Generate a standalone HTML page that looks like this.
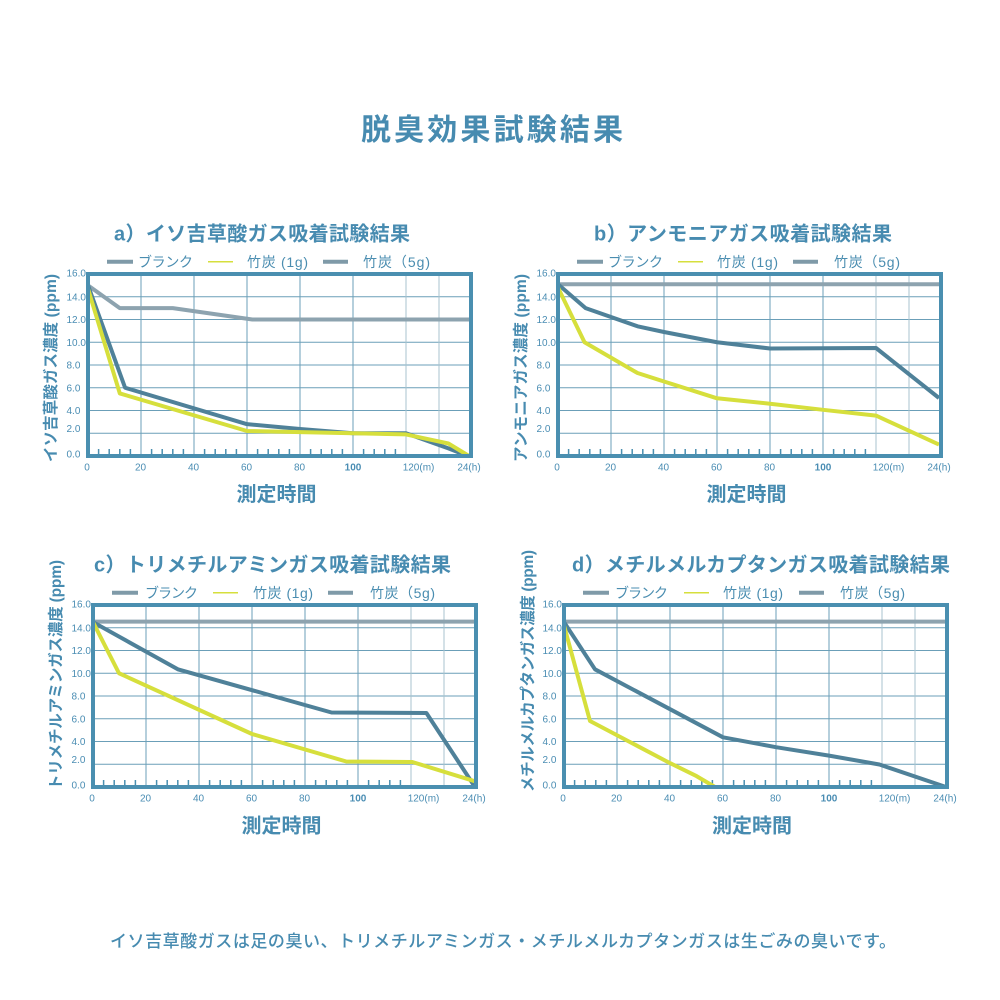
<!DOCTYPE html>
<html><head><meta charset="utf-8"><style>
html,body{margin:0;padding:0;background:#fff;width:1000px;height:1000px;overflow:hidden}
svg{display:block}
.t{font-family:"Liberation Sans","Noto Sans CJK JP",sans-serif;fill:#478bb0}
.n{font-family:"Liberation Sans",sans-serif;font-size:10px;fill:#4a8db3}
.lg{font-family:"Liberation Sans","Noto Sans CJK JP",sans-serif;font-size:14px;fill:#4a8db0}
</style></head><body>
<svg width="1000" height="1000" viewBox="0 0 1000 1000" xmlns="http://www.w3.org/2000/svg">
<defs>
<g id="frame">
<path d="M0 22.75H383M0 45.5H383M0 68.25H383M0 91H383M0 113.75H383M0 136.5H383M0 159.25H383M53 0V182M106 0V182M159 0V182M212 0V182M265 0V182" stroke="#6b9fb8" stroke-width="1" fill="none"/>
<path d="M318 0V182M351 0V182" stroke="#a9c3cf" stroke-width="1" fill="none"/>
<path d="M10.6 175V182M21.2 175V182M31.8 175V182M42.4 175V182M63.6 175V182M74.2 175V182M84.8 175V182M95.4 175V182M116.6 175V182M127.2 175V182M137.8 175V182M148.4 175V182M169.6 175V182M180.2 175V182M190.8 175V182M201.4 175V182M222.6 175V182M233.2 175V182M243.8 175V182M254.4 175V182M275.6 175V182M286.2 175V182M296.8 175V182M307.4 175V182" stroke="#4a8fb0" stroke-width="1.5" fill="none"/>
</g>
<g id="legendlines">
<line x1="19" y1="-12.3" x2="45" y2="-12.3" stroke="#7f9aa8" stroke-width="4"/>
<line x1="120" y1="-12.3" x2="145" y2="-12.3" stroke="#d6df3c" stroke-width="1.5"/>
<line x1="235" y1="-12.3" x2="260" y2="-12.3" stroke="#7f9aa8" stroke-width="4"/>
</g>
</defs>

<text class="t" x="361" y="140" font-size="30" font-weight="bold" textLength="262" lengthAdjust="spacing">脱臭効果試験結果</text>

<!-- Chart a -->
<g transform="translate(88,274)">
<use href="#frame"/>
<polyline points="0,11.4 31.8,34.1 84.8,34.1 164.3,45.5 381,45.5" fill="none" stroke="#8da3af" stroke-width="4" stroke-linejoin="round"/>
<polyline points="0,11.4 37.1,113.75 159,150.15 212,155 265,159.25 318,159.25 360.4,174.4 380,182" fill="none" stroke="#4f8199" stroke-width="4" stroke-linejoin="round"/>
<polyline points="0,14.8 31.8,119.4 159,157 265,159.25 318,160.4 360.4,169.5 381,182" fill="none" stroke="#d6df3c" stroke-width="4" stroke-linejoin="round"/>
<rect x="0" y="0" width="383" height="182" fill="none" stroke="#4a8fb0" stroke-width="4"/>
<use href="#legendlines"/>
<text class="lg" x="50" y="-7" textLength="55" lengthAdjust="spacing">ブランク</text>
<text class="lg" x="159" y="-7" textLength="61" lengthAdjust="spacing">竹炭 (1g)</text>
<text class="lg" x="275" y="-7" textLength="67" lengthAdjust="spacing">竹炭（5g)</text>
<text class="t" x="26" y="-33.7" font-size="20" font-weight="bold" textLength="296" lengthAdjust="spacing">a）イソ吉草酸ガス吸着試験結果</text>
<text class="t" x="188.5" y="227" font-size="20" font-weight="bold" text-anchor="middle">測定時間</text>
<text class="t" transform="translate(-32,188) rotate(-90)" font-size="15.5" font-weight="bold" textLength="188" lengthAdjust="spacing">イソ吉草酸ガス濃度 (ppm)</text>
<g class="n">
<text x="-21.5" y="2.6">16.0</text><text x="-21.5" y="26.3">14.0</text><text x="-21.5" y="49">12.0</text><text x="-21.5" y="71.8">10.0</text><text x="-21.5" y="94.6">8.0</text><text x="-21.5" y="117.3">6.0</text><text x="-21.5" y="140.1">4.0</text><text x="-21.5" y="158">2.0</text><text x="-21.5" y="183.6">0.0</text>
<text x="-1" y="196.3" text-anchor="middle">0</text><text x="52.5" y="196.3" text-anchor="middle">20</text><text x="105.5" y="196.3" text-anchor="middle">40</text><text x="158.5" y="196.3" text-anchor="middle">60</text><text x="211.5" y="196.3" text-anchor="middle">80</text><text x="265" y="196.3" text-anchor="middle" font-weight="bold">100</text><text x="314.7" y="196.3">120(m)</text><text x="381" y="196.3" text-anchor="middle">24(h)</text>
</g>
</g>

<!-- Chart b -->
<g transform="translate(558,274)">
<use href="#frame"/>
<polyline points="0,10.2 381,10.2" fill="none" stroke="#8da3af" stroke-width="4"/>
<polyline points="0,10.2 27.6,34.1 79.5,52.3 106,58 159,68.25 212,74.5 318,74 381,124" fill="none" stroke="#4f8199" stroke-width="4" stroke-linejoin="round"/>
<polyline points="0,13.65 26.5,68.25 79.5,99 106,107.5 159,124.3 212,129.7 265,135.8 318,141.6 381,170.6" fill="none" stroke="#d6df3c" stroke-width="4" stroke-linejoin="round"/>
<rect x="0" y="0" width="383" height="182" fill="none" stroke="#4a8fb0" stroke-width="4"/>
<use href="#legendlines"/>
<text class="lg" x="50" y="-7" textLength="55" lengthAdjust="spacing">ブランク</text>
<text class="lg" x="159" y="-7" textLength="61" lengthAdjust="spacing">竹炭 (1g)</text>
<text class="lg" x="276" y="-7" textLength="66" lengthAdjust="spacing">竹炭（5g)</text>
<text class="t" x="36" y="-33.7" font-size="20" font-weight="bold" textLength="298" lengthAdjust="spacing">b）アンモニアガス吸着試験結果</text>
<text class="t" x="188.5" y="227" font-size="20" font-weight="bold" text-anchor="middle">測定時間</text>
<text class="t" transform="translate(-32,188) rotate(-90)" font-size="15.5" font-weight="bold" textLength="188" lengthAdjust="spacing">アンモニアガス濃度 (ppm)</text>
<g class="n">
<text x="-21.5" y="2.6">16.0</text><text x="-21.5" y="26.3">14.0</text><text x="-21.5" y="49">12.0</text><text x="-21.5" y="71.8">10.0</text><text x="-21.5" y="94.6">8.0</text><text x="-21.5" y="117.3">6.0</text><text x="-21.5" y="140.1">4.0</text><text x="-21.5" y="158">2.0</text><text x="-21.5" y="183.6">0.0</text>
<text x="-1" y="196.3" text-anchor="middle">0</text><text x="52.5" y="196.3" text-anchor="middle">20</text><text x="105.5" y="196.3" text-anchor="middle">40</text><text x="158.5" y="196.3" text-anchor="middle">60</text><text x="211.5" y="196.3" text-anchor="middle">80</text><text x="265" y="196.3" text-anchor="middle" font-weight="bold">100</text><text x="314.7" y="196.3">120(m)</text><text x="381" y="196.3" text-anchor="middle">24(h)</text>
</g>
</g>

<!-- Chart c -->
<g transform="translate(93,605)">
<use href="#frame"/>
<polyline points="0,16.6 382,16.6" fill="none" stroke="#8da3af" stroke-width="4"/>
<polyline points="0,17.1 84.8,64.3 238.5,107.5 333.4,108 382,182" fill="none" stroke="#4f8199" stroke-width="4" stroke-linejoin="round"/>
<polyline points="0,17.1 26,68.25 159,129 253.3,156.5 319.3,157 382,176.3" fill="none" stroke="#d6df3c" stroke-width="4" stroke-linejoin="round"/>
<rect x="0" y="0" width="383" height="182" fill="none" stroke="#4a8fb0" stroke-width="4"/>
<use href="#legendlines"/>
<text class="lg" x="52" y="-7" textLength="53" lengthAdjust="spacing">ブランク</text>
<text class="lg" x="160" y="-7" textLength="60" lengthAdjust="spacing">竹炭 (1g)</text>
<text class="lg" x="277" y="-7" textLength="65" lengthAdjust="spacing">竹炭（5g)</text>
<text class="t" x="1" y="-33.4" font-size="20" font-weight="bold" textLength="357" lengthAdjust="spacing">c）トリメチルアミンガス吸着試験結果</text>
<text class="t" x="188.5" y="227.6" font-size="20" font-weight="bold" text-anchor="middle">測定時間</text>
<text class="t" transform="translate(-32,185) rotate(-90)" font-size="15.5" font-weight="bold" textLength="230" lengthAdjust="spacing">トリメチルアミンガス濃度 (ppm)</text>
<g class="n">
<text x="-21.5" y="2.6">16.0</text><text x="-21.5" y="26.3">14.0</text><text x="-21.5" y="49">12.0</text><text x="-21.5" y="71.8">10.0</text><text x="-21.5" y="94.6">8.0</text><text x="-21.5" y="117.3">6.0</text><text x="-21.5" y="140.1">4.0</text><text x="-21.5" y="158">2.0</text><text x="-21.5" y="183.6">0.0</text>
<text x="-1" y="196.3" text-anchor="middle">0</text><text x="52.5" y="196.3" text-anchor="middle">20</text><text x="105.5" y="196.3" text-anchor="middle">40</text><text x="158.5" y="196.3" text-anchor="middle">60</text><text x="211.5" y="196.3" text-anchor="middle">80</text><text x="265" y="196.3" text-anchor="middle" font-weight="bold">100</text><text x="314.7" y="196.3">120(m)</text><text x="381" y="196.3" text-anchor="middle">24(h)</text>
</g>
</g>

<!-- Chart d -->
<g transform="translate(564,605)">
<use href="#frame"/>
<polyline points="0,16.6 382,16.6" fill="none" stroke="#8da3af" stroke-width="4"/>
<polyline points="0,17.1 31,64.3 159,132.3 212,142.2 265,150.6 315.4,159.5 382,182" fill="none" stroke="#4f8199" stroke-width="4" stroke-linejoin="round"/>
<polyline points="0,20.5 26,116 106,158.1 132.5,171.1 151,182" fill="none" stroke="#d6df3c" stroke-width="4" stroke-linejoin="round"/>
<rect x="0" y="0" width="383" height="182" fill="none" stroke="#4a8fb0" stroke-width="4"/>
<use href="#legendlines"/>
<text class="lg" x="51" y="-7" textLength="53" lengthAdjust="spacing">ブランク</text>
<text class="lg" x="159" y="-7" textLength="60" lengthAdjust="spacing">竹炭 (1g)</text>
<text class="lg" x="276" y="-7" textLength="65" lengthAdjust="spacing">竹炭（5g)</text>
<text class="t" x="8" y="-33.4" font-size="20" font-weight="bold" textLength="378" lengthAdjust="spacing">d）メチルメルカプタンガス吸着試験結果</text>
<text class="t" x="188" y="227.6" font-size="20" font-weight="bold" text-anchor="middle">測定時間</text>
<text class="t" transform="translate(-31,187) rotate(-90)" font-size="15.5" font-weight="bold" textLength="242" lengthAdjust="spacing">メチルメルカプタンガス濃度 (ppm)</text>
<g class="n">
<text x="-21.5" y="2.6">16.0</text><text x="-21.5" y="26.3">14.0</text><text x="-21.5" y="49">12.0</text><text x="-21.5" y="71.8">10.0</text><text x="-21.5" y="94.6">8.0</text><text x="-21.5" y="117.3">6.0</text><text x="-21.5" y="140.1">4.0</text><text x="-21.5" y="158">2.0</text><text x="-21.5" y="183.6">0.0</text>
<text x="-1" y="196.3" text-anchor="middle">0</text><text x="52.5" y="196.3" text-anchor="middle">20</text><text x="105.5" y="196.3" text-anchor="middle">40</text><text x="158.5" y="196.3" text-anchor="middle">60</text><text x="211.5" y="196.3" text-anchor="middle">80</text><text x="265" y="196.3" text-anchor="middle" font-weight="bold">100</text><text x="314.7" y="196.3">120(m)</text><text x="381" y="196.3" text-anchor="middle">24(h)</text>
</g>
</g>

<text class="t" x="110" y="947" font-size="17" font-weight="500" textLength="786" lengthAdjust="spacing">イソ吉草酸ガスは足の臭い、トリメチルアミンガス・メチルメルカプタンガスは生ごみの臭いです。</text>
</svg>
</body></html>
